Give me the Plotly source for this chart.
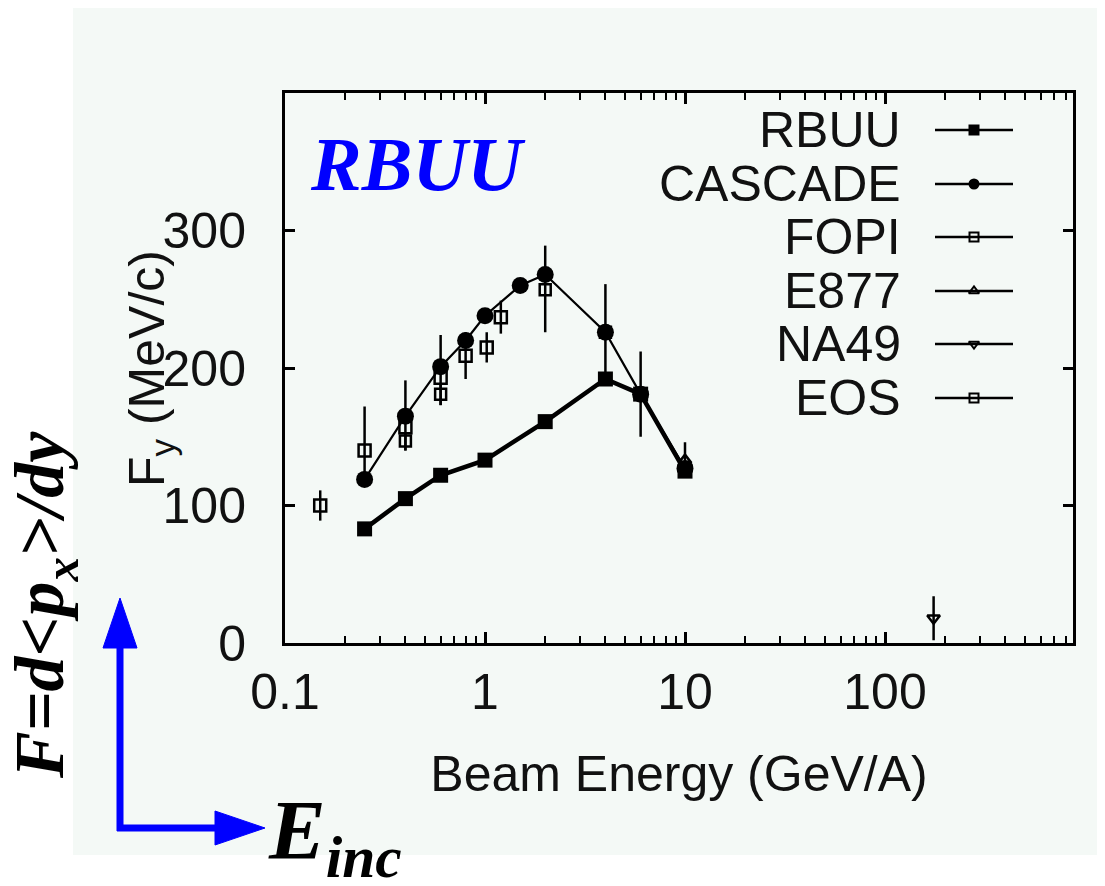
import plotly.graph_objects as go

# ---------------- data ----------------
rbuu_E = [0.25, 0.4, 0.6, 1.0, 2.0, 4.0, 6.0, 10.0]
rbuu_F = [83, 105, 122, 133, 161, 192, 181, 125]

casc_E = [0.25, 0.4, 0.6, 0.8, 1.0, 1.5, 2.0, 4.0, 6.0, 10.0]
casc_F = [119, 165, 201, 220, 238, 260, 268, 226, 181, 127]

fopi_E = [0.15, 0.25, 0.4, 0.6, 0.8, 1.02, 1.2]
fopi_F = [100, 140, 157, 193, 209, 215, 237]
fopi_up = [11, 32, 34, 31, 17, 11, 12]
fopi_dn = [11, 20, 17, 20, 17, 11, 12]

eos_E = [0.4, 0.6, 2.0, 4.0, 6.0]
eos_F = [147, 181, 257, 226, 181]
eos_up = [6, 8, 32, 35, 31]
eos_dn = [7, 8, 31, 30, 31]

e877_E = [10.0]
e877_F = [133]
e877_up = [13]
e877_dn = [8]

na49_E = [175.0]
na49_F = [18]
na49_err = [16]

legend_names = ["RBUU", "CASCADE", "FOPI", "E877", "NA49", "EOS"]
x_tickvals = [0.1, 1, 10, 100]
x_ticktext = ["0.1", "1", "10", "100"]
y_tickvals = [0, 100, 200, 300]

# ---------------- layout geometry (page pixels) ----------------
OFF = 8                      # default body margin of the html page
PAGE_W, PAGE_H = 1105, 886
W, H = PAGE_W - OFF, PAGE_H - OFF
L, R, T, B = 285, 1073, 93, 643   # plot frame in page pixels
BG = "#f4f9f6"


def px(x):
    return (x - L) / (R - L)


def py(y):
    return (B - y) / (B - T)


fig = go.Figure()

# experimental data (drawn first, under model curves)
fig.add_trace(go.Scatter(
    x=fopi_E, y=fopi_F, mode="markers", name="FOPI",
    marker=dict(symbol="square-open", size=12, color="black", line=dict(width=2.5)),
    error_y=dict(type="data", symmetric=False, array=fopi_up, arrayminus=fopi_dn,
                 color="black", thickness=2.5, width=0),
    showlegend=False))
fig.add_trace(go.Scatter(
    x=eos_E, y=eos_F, mode="markers", name="EOS",
    marker=dict(symbol="square-open", size=11, color="black", line=dict(width=2.5)),
    error_y=dict(type="data", symmetric=False, array=eos_up, arrayminus=eos_dn,
                 color="black", thickness=2.5, width=0),
    showlegend=False))
fig.add_trace(go.Scatter(
    x=e877_E, y=e877_F, mode="markers", name="E877",
    marker=dict(symbol="triangle-up-open", size=11, color="black", line=dict(width=2.5)),
    error_y=dict(type="data", symmetric=False, array=e877_up, arrayminus=e877_dn,
                 color="black", thickness=2.5, width=0),
    showlegend=False))
fig.add_trace(go.Scatter(
    x=na49_E, y=na49_F, mode="markers", name="NA49",
    marker=dict(symbol="triangle-down-open", size=11, color="black", line=dict(width=2.5)),
    error_y=dict(type="data", array=na49_err, color="black", thickness=2.5, width=0),
    showlegend=False))

# model curves
fig.add_trace(go.Scatter(
    x=casc_E, y=casc_F, mode="lines+markers", name="CASCADE",
    line=dict(color="black", width=2.2),
    marker=dict(symbol="circle", size=17, color="black"),
    showlegend=False))
fig.add_trace(go.Scatter(
    x=rbuu_E, y=rbuu_F, mode="lines+markers", name="RBUU",
    line=dict(color="black", width=4.5),
    marker=dict(symbol="square", size=15, color="black"),
    showlegend=False))

# ---------------- hand-made legend (text left, sample right) ----------------
leg_y = [130, 184, 237, 291, 344, 398]
leg_sym = ["square", "circle", "square-open", "triangle-up-open", "triangle-down-open", "square-open"]
for name, yy, sym in zip(legend_names, leg_y, leg_sym):
    fig.add_trace(go.Scatter(
        x=[935, 1013], y=[yy, yy], xaxis="x2", yaxis="y2", mode="lines",
        line=dict(color="black", width=2.5), showlegend=False, hoverinfo="skip"))
    fig.add_trace(go.Scatter(
        x=[974], y=[yy], xaxis="x2", yaxis="y2", mode="markers",
        marker=dict(symbol=sym, size=9, color="black", line=dict(width=2, color="black")),
        showlegend=False, hoverinfo="skip"))
    fig.add_annotation(
        x=px(903), y=py(yy), xref="paper", yref="paper", text=name,
        showarrow=False, xanchor="right", yanchor="middle",
        font=dict(family="Liberation Sans, Arial, sans-serif", size=50, color="#111"))

# ---------------- texts ----------------
fig.add_annotation(
    x=px(308), y=py(164), xref="paper", yref="paper",
    text="<b><i>RBUU</i></b>", showarrow=False, xanchor="left", yanchor="middle",
    font=dict(family="Liberation Serif, Times New Roman, serif", size=76, color="#0000ff"))

fig.add_annotation(
    x=px(150), y=py(369), xref="paper", yref="paper",
    text="F<sub>y</sub> (MeV/c)", showarrow=False, textangle=-90,
    xanchor="center", yanchor="middle",
    font=dict(family="Liberation Sans, Arial, sans-serif", size=50, color="#111"))

fig.add_annotation(
    x=px(45), y=py(605), xref="paper", yref="paper",
    text="<b><i>F=d&lt;p<sub>x</sub>&gt;/dy</i></b>", showarrow=False, textangle=-90,
    xanchor="center", yanchor="middle",
    font=dict(family="Liberation Serif, Times New Roman, serif", size=70, color="black"))

fig.add_annotation(
    x=px(266), y=py(836), xref="paper", yref="paper",
    text="<b><i>E<sub>inc</sub></i></b>", showarrow=False,
    xanchor="left", yanchor="middle",
    font=dict(family="Liberation Serif, Times New Roman, serif", size=85, color="black"))

# ---------------- shapes: background panel and blue arrows ----------------
shapes = [
    dict(type="rect", xref="paper", yref="paper", x0=px(73), x1=px(1110), y0=py(855), y1=py(8),
         fillcolor=BG, line=dict(width=0), layer="below"),
    dict(type="line", xref="paper", yref="paper", x0=px(120), x1=px(120), y0=py(831), y1=py(645),
         line=dict(color="#0000ff", width=7)),
    dict(type="path", xref="paper", yref="paper",
         path=f"M {px(103)} {py(648)} L {px(137)} {py(648)} L {px(120)} {py(598)} Z",
         fillcolor="#0000ff", line=dict(color="#0000ff", width=1)),
    dict(type="line", xref="paper", yref="paper", x0=px(117), x1=px(218), y0=py(828), y1=py(828),
         line=dict(color="#0000ff", width=7)),
    dict(type="path", xref="paper", yref="paper",
         path=f"M {px(215)} {py(811)} L {px(215)} {py(845)} L {px(265)} {py(828)} Z",
         fillcolor="#0000ff", line=dict(color="#0000ff", width=1)),
]

tickfont = dict(family="Liberation Sans, Arial, sans-serif", size=50, color="#111")

fig.update_layout(
    width=W, height=H,
    margin=dict(l=L - OFF, r=PAGE_W - R, t=T - OFF, b=PAGE_H - B, autoexpand=False),
    paper_bgcolor="white", plot_bgcolor=BG,
    shapes=shapes,
    showlegend=False,
    xaxis=dict(
        type="log", range=[-1, 2.94], tickvals=x_tickvals, ticktext=x_ticktext,
        ticks="inside", ticklen=11, tickwidth=2.5, tickcolor="black",
        minor=dict(ticks="inside", ticklen=7, tickwidth=2, tickcolor="black", dtick="D1", showgrid=False),
        showline=True, linewidth=3, linecolor="black", mirror="ticks",
        showgrid=False, zeroline=False, tickfont=tickfont, ticklabelstandoff=3,
        title=dict(text="Beam Energy (GeV/A)", font=tickfont, standoff=37),
    ),
    yaxis=dict(
        range=[0, 400], tickvals=y_tickvals,
        ticks="inside", ticklen=10, tickwidth=2.5, tickcolor="black",
        showline=True, linewidth=3, linecolor="black", mirror="ticks",
        showgrid=False, zeroline=False, tickfont=tickfont, ticklabelstandoff=26,
    ),
    xaxis2=dict(overlaying="x", range=[L, R], visible=False, fixedrange=True),
    yaxis2=dict(overlaying="y", range=[B, T], visible=False, fixedrange=True),
)

fig.write_html("out.html")
